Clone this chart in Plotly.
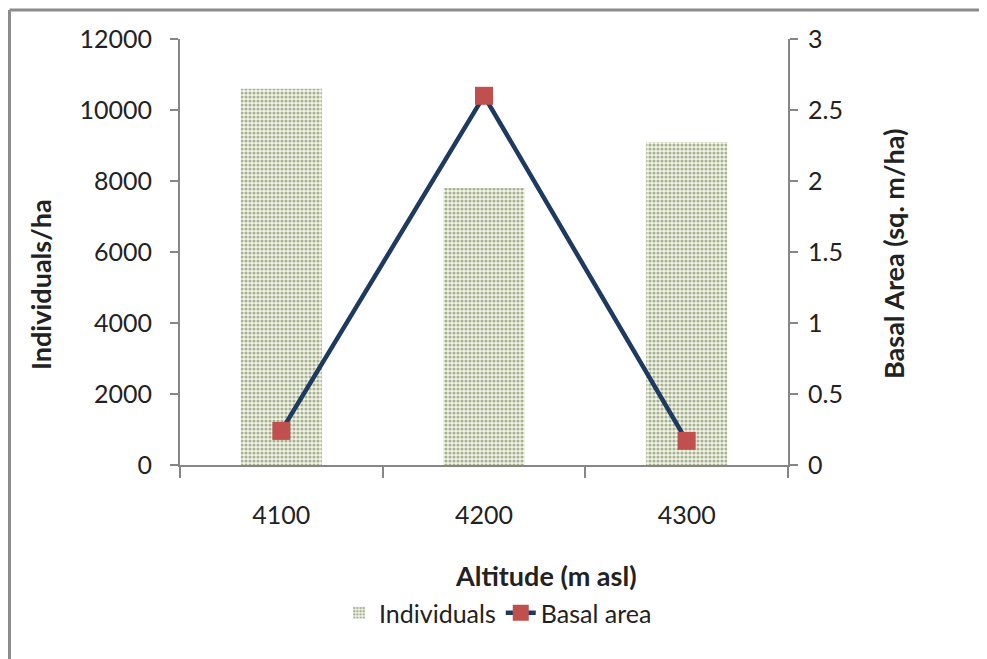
import plotly.graph_objects as go

altitudes = ["4100", "4200", "4300"]
individuals = [10600, 7800, 9100]
basal_area = [0.24, 2.6, 0.17]

left_ticks = [0, 2000, 4000, 6000, 8000, 10000, 12000]
left_tick_text = ["0", "2000", "4000", "6000", "8000", "10000", "12000"]
right_ticks = [0, 0.5, 1, 1.5, 2, 2.5, 3]
right_tick_text = ["0", "0.5", "1", "1.5", "2", "2.5", "3"]

FONT = "Lato"
AX = "#868686"
TXT = "#222222"

# plot area in figure px (page has an 8px body margin)
L, R, T, B = 172, 780, 31, 457
W, H = R - L, B - T

fig = go.Figure()
fig.add_trace(go.Bar(
    x=altitudes, y=individuals, name="Individuals", width=0.4,
    marker=dict(color="#f3f5ec", line=dict(width=0),
                pattern=dict(shape=".", fgcolor="#5d7030", bgcolor="#f3f5ec",
                             size=4, solidity=0.5, fillmode="overlay")),
))
fig.add_trace(go.Scatter(
    x=altitudes, y=basal_area, name="Basal area", yaxis="y2", mode="lines+markers",
    line=dict(color="#1f3a60", width=4.5),
    marker=dict(symbol="square", size=18, color="#c0504d"),
))

fig.update_layout(
    width=987, height=659,
    margin=dict(l=L, r=987 - R, t=T, b=659 - B),
    paper_bgcolor="white", plot_bgcolor="white",
    font=dict(family=FONT, color=TXT, size=25),
    showlegend=True,
    legend=dict(orientation="h", x=(498 - 8 - L) / W, xanchor="center", y=-(605 - B) / H,
                yanchor="middle", font=dict(size=25, family=FONT), traceorder="normal"),
    xaxis=dict(type="category", showline=True, linecolor=AX, linewidth=2,
               ticks="outside", tickson="boundaries", ticklen=11, tickcolor=AX, tickwidth=2,
               showgrid=False, tickfont=dict(size=25, family=FONT), ticklabelstandoff=27),
    yaxis=dict(range=[0, 12000], tickmode="array", tickvals=left_ticks, ticktext=left_tick_text,
               showline=True, linecolor=AX, linewidth=2,
               ticks="outside", ticklen=8, tickcolor=AX, tickwidth=2, showgrid=False,
               zeroline=False, tickfont=dict(size=25, family=FONT), ticklabelstandoff=13),
    yaxis2=dict(range=[0, 3], tickmode="array", tickvals=right_ticks, ticktext=right_tick_text,
                overlaying="y", side="right",
                showline=True, linecolor=AX, linewidth=2, ticks="outside", ticklen=8,
                tickcolor=AX, tickwidth=2, showgrid=False, zeroline=False,
                tickfont=dict(size=25, family=FONT), ticklabelstandoff=5),
)

title_font = dict(size=27, family=FONT, color=TXT)
fig.add_annotation(text="<b>Altitude (m asl)</b>", xref="paper", yref="paper",
                   x=(538 - L) / W, y=-(567 - B) / H, showarrow=False,
                   xanchor="center", yanchor="middle", font=title_font)
fig.add_annotation(text="<b>Individuals/ha</b>", xref="paper", yref="paper",
                   x=(32 - L) / W, y=(B - 277) / H, showarrow=False, textangle=-90,
                   xanchor="center", yanchor="middle", font=title_font)
fig.add_annotation(text="<b>Basal Area (sq. m/ha)</b>", xref="paper", yref="paper",
                   x=(885 - L) / W, y=(B - 246) / H, showarrow=False, textangle=-90,
                   xanchor="center", yanchor="middle", font=title_font)

bx = (1.5 - L) / W
by = 1 + (T - 2) / H
fig.add_shape(type="line", xref="paper", yref="paper", x0=bx, x1=(995 - L) / W,
              y0=by, y1=by, line=dict(color="#8c8c8c", width=3))
fig.add_shape(type="line", xref="paper", yref="paper", x0=bx, x1=bx,
              y0=by, y1=-(680 - B) / H, line=dict(color="#8c8c8c", width=3))

fig.write_html("out.html")
